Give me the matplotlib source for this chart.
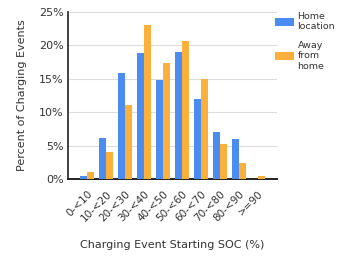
import matplotlib as mpl
mpl.use('Agg')
import matplotlib.pyplot as plt
import numpy as np

categories = ['0-<10', '10-<20', '20-<30', '30-<40', '40-<50', '50-<60',
              '60-<70', '70-<80', '80-<90', '>=90']
home = [0.4, 6.1, 15.9, 18.9, 14.9, 19.0, 12.0, 7.0, 6.0, 0.0]
away = [1.0, 4.0, 11.1, 23.1, 17.4, 20.7, 15.0, 5.3, 2.4, 0.5]
yticks = [0, 5, 10, 15, 20, 25]

blue = '#4a8cf0'
orange = '#fbb03b'
txt = '#333333'

fig = plt.figure(figsize=(3.37, 2.57), dpi=100)
ax = fig.add_axes([0.202, 0.303, 0.62, 0.65])

x = np.arange(len(categories))
w = 0.39
ax.bar(x - w / 2, home, w, color=blue, label='Home\nlocation', zorder=3)
ax.bar(x + w / 2, away, w, color=orange, label='Away\nfrom\nhome', zorder=3)

ax.set_xlim(-1.0, len(categories))
ax.set_ylim(0, 25)
ax.set_yticks(yticks)
ax.set_yticklabels([f'{v}%' for v in yticks], fontsize=8, color=txt)
ax.set_xticks(x)
ax.set_xticklabels(categories, rotation=45, ha='right', rotation_mode='anchor',
                   fontsize=7.5, color=txt)
ax.tick_params(axis='y', length=0, pad=3)
ax.tick_params(axis='x', length=0, pad=7)
ax.grid(axis='y', color='#dddddd', linewidth=0.8, zorder=0)

for s in ['top', 'right']:
    ax.spines[s].set_visible(False)
ax.spines['left'].set_color('#222222')
ax.spines['bottom'].set_color('#222222')
ax.spines['left'].set_linewidth(1.2)
ax.spines['bottom'].set_linewidth(1.4)

ax.set_ylabel('Percent of Charging Events', fontsize=8, color=txt, labelpad=9)
ax.set_xlabel('Charging Event Starting SOC (%)', fontsize=8, color=txt, labelpad=12)

ax.legend(loc='upper left', bbox_to_anchor=(0.99, 1.0), frameon=False,
          borderaxespad=0, borderpad=0,
          fontsize=6.8, handlelength=2.0, handleheight=0.9, handletextpad=0.4,
          labelspacing=1.0, labelcolor=txt)

fig.savefig('out.png', dpi=100)
